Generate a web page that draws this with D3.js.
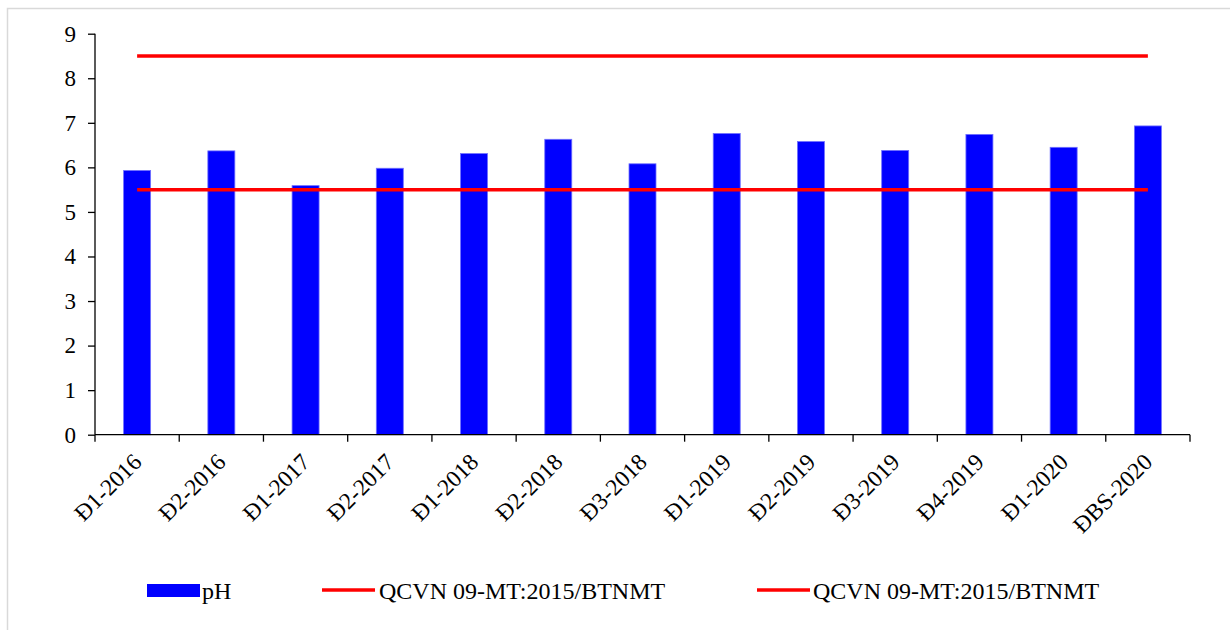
<!DOCTYPE html>
<html><head><meta charset="utf-8">
<script src="https://cdn.jsdelivr.net/npm/d3@7"></script>
<style>body{margin:0;background:#fff}svg{display:block}text{font-family:"Liberation Serif","Times New Roman",serif;fill:#000}</style>
</head><body><svg id="c" width="1230" height="630"></svg>
<script>
const categories = ["Đ1-2016","Đ2-2016","Đ1-2017","Đ2-2017","Đ1-2018","Đ2-2018","Đ3-2018","Đ1-2019","Đ2-2019","Đ3-2019","Đ4-2019","Đ1-2020","ĐBS-2020"];
const phValues = [5.93,6.37,5.59,5.98,6.31,6.63,6.08,6.76,6.58,6.38,6.74,6.45,6.93];
const upperLimit = categories.map(() => 8.5);
const lowerLimit = categories.map(() => 5.5);
const yTicks = [0,1,2,3,4,5,6,7,8,9];
const legendLabels = ["pH","QCVN 09-MT:2015/BTNMT","QCVN 09-MT:2015/BTNMT"];

const svg = d3.select("#c");
svg.append("rect").attr("x",7.5).attr("y",8.5).attr("width",1240).attr("height",640)
  .attr("fill","none").attr("stroke","#d9d9d9").attr("stroke-width",1.5);

const xb = d3.scaleBand().domain(categories).range([95,1190]);
const y = d3.scaleLinear().domain([0,9]).range([434.7,33.7]);

// bars
svg.append("g").selectAll("rect").data(phValues).join("rect")
  .attr("x",(d,i)=>xb(categories[i]) + xb.bandwidth()/2 - 13.5)
  .attr("width",27)
  .attr("y",d=>y(d)).attr("height",d=>y(0)-y(d))
  .attr("fill","#0000ff").attr("stroke","#7070ff").attr("stroke-width",0.8);

// limit lines
const line = d3.line().x((d,i)=>xb(categories[i])+xb.bandwidth()/2).y(d=>y(d));
[upperLimit, lowerLimit].forEach(arr=>{
  svg.append("path").attr("d",line(arr)).attr("fill","none").attr("stroke","#ff0000").attr("stroke-width",3.5);
});

// y axis
const ya = svg.append("g").attr("transform","translate(95,0)")
  .call(d3.axisLeft(y).tickValues(yTicks).tickSize(7).tickPadding(12).tickFormat(d3.format("d")));
ya.select(".domain").attr("stroke","#000").attr("stroke-width",1.3).attr("d","M0,"+y(9)+"V"+y(0));
ya.selectAll(".tick line").attr("stroke","#000").attr("stroke-width",1.3);
ya.selectAll("text").attr("font-size",23).attr("font-family","Liberation Serif");

// x axis
const xa = svg.append("g").attr("transform","translate(0,"+y(0)+")");
xa.append("line").attr("x1",95).attr("x2",1190).attr("stroke","#000").attr("stroke-width",1.3);
const bounds = categories.map(c=>xb(c)).concat([xb.range()[1]]);
xa.selectAll("line.t").data(bounds).join("line").attr("class","t")
  .attr("x1",d=>d).attr("x2",d=>d).attr("y1",0).attr("y2",7).attr("stroke","#000").attr("stroke-width",1.3);
xa.selectAll("text").data(categories).join("text")
  .attr("transform",d=>"translate("+(xb(d)+xb.bandwidth()/2)+",23) rotate(-45)")
  .attr("text-anchor","end").attr("font-size",23.5).attr("dy","0.35em").text(d=>d);

// legend
const lg = svg.append("g");
lg.append("rect").attr("x",147).attr("y",584).attr("width",53).attr("height",13).attr("fill","#0000ff");
lg.append("text").attr("x",202).attr("y",599).attr("font-size",24).text(legendLabels[0]);
[[322,379,legendLabels[1]],[757,813,legendLabels[2]]].forEach(([lx,tx,t])=>{
  lg.append("line").attr("x1",lx).attr("x2",lx+53).attr("y1",590).attr("y2",590).attr("stroke","#ff0000").attr("stroke-width",3.5);
  lg.append("text").attr("x",tx).attr("y",599).attr("font-size",24).text(t);
});
</script></body></html>
